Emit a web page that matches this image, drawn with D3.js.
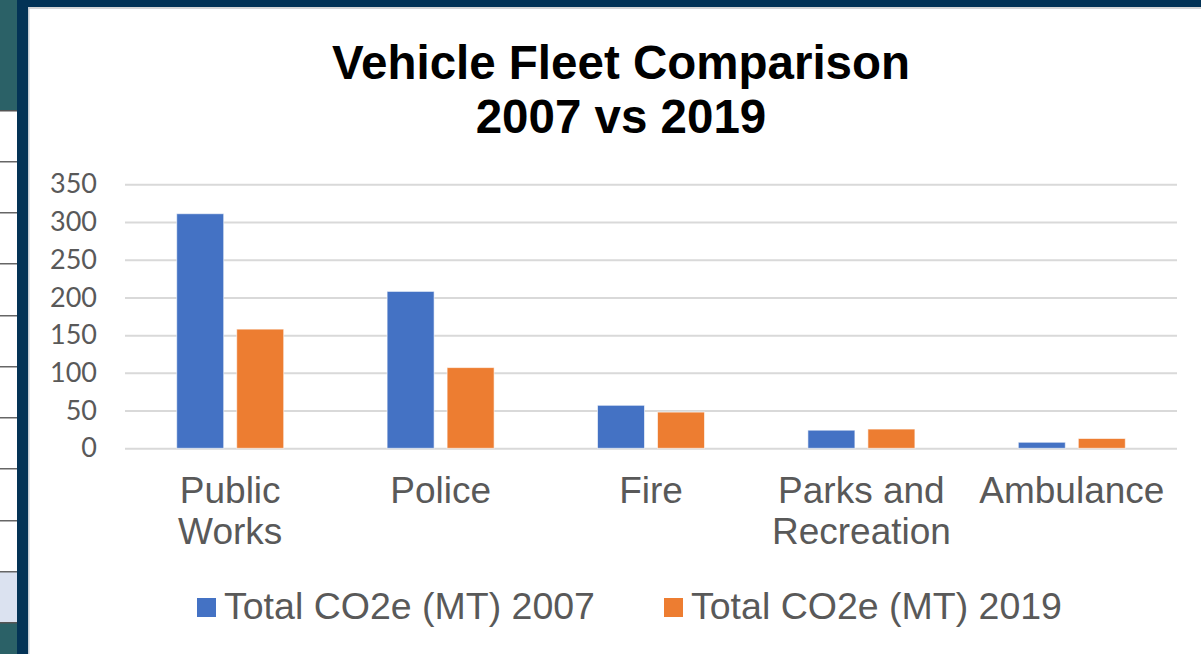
<!DOCTYPE html>
<html>
<head>
<meta charset="utf-8">
<script src="https://cdn.jsdelivr.net/npm/d3@7"></script>
<style>
  html, body { margin: 0; padding: 0; background: #fff; }
  svg { display: block; }
</style>
</head>
<body>
<svg id="chart" width="1201" height="654"></svg>
<script>
// ---- data ----
const categories = ["Public Works", "Police", "Fire", "Parks and Recreation", "Ambulance"];
const seriesNames = ["Total CO2e (MT) 2007", "Total CO2e (MT) 2019"];
const values2007 = [311, 208, 57, 24, 8];
const values2019 = [158, 107, 48, 25.5, 13];
const yTicks = [0, 50, 100, 150, 200, 250, 300, 350];
const titleLines = ["Vehicle Fleet Comparison", "2007 vs 2019"];

const colors = ["#4472C4", "#ED7D31"];
const svg = d3.select("#chart");
const W = 1201, H = 654;

// ---- page frame (surrounding slide UI) ----
svg.append("rect").attr("x", 0).attr("y", 0).attr("width", 17).attr("height", 111).attr("fill", "#2b6167");
svg.append("rect").attr("x", 0).attr("y", 572).attr("width", 17).attr("height", 51).attr("fill", "#dbe2f0");
svg.append("rect").attr("x", 0).attr("y", 623).attr("width", 17).attr("height", 31).attr("fill", "#2b6167");
[162, 213, 264, 316, 367, 418, 469, 521, 572].forEach(y => {
  svg.append("rect").attr("x", 0).attr("y", y - 1).attr("width", 17).attr("height", 1.5).attr("fill", "#666");
});
svg.append("rect").attr("x", 0).attr("y", 110).attr("width", 17).attr("height", 1.5).attr("fill", "#555");
svg.append("rect").attr("x", 0).attr("y", 622).attr("width", 17).attr("height", 1.5).attr("fill", "#555");
svg.append("rect").attr("x", 17).attr("y", 0).attr("width", W - 17).attr("height", 7).attr("fill", "#033356");
svg.append("rect").attr("x", 17).attr("y", 0).attr("width", 11).attr("height", H).attr("fill", "#033356");
svg.append("rect").attr("x", 28).attr("y", 7).attr("width", W - 28).attr("height", 2).attr("fill", "#d6d6d6");
svg.append("rect").attr("x", 28).attr("y", 7).attr("width", 1.5).attr("height", H).attr("fill", "#c5ccd4");

// ---- scales ----
const plotLeft = 125, plotRight = 1177, plotTop = 184.3, plotBottom = 448.3;
const x0 = d3.scaleBand().domain(categories).range([plotLeft, plotRight]).padding(0);
const groupW = 107;
const x1 = d3.scaleBand().domain(seriesNames).range([0, groupW]).paddingInner(0.2167).paddingOuter(0);
const y = d3.scaleLinear().domain([0, 350]).range([plotBottom, plotTop]);

// ---- gridlines ----
const grid = svg.append("g").attr("transform", `translate(${plotLeft},0)`)
  .call(d3.axisLeft(y).tickValues(yTicks).tickSize(-(plotRight - plotLeft)).tickFormat(""));
grid.select(".domain").remove();
grid.selectAll("line").attr("stroke", "#d9d9d9").attr("stroke-width", 2);

// ---- y axis labels ----
const yAxis = svg.append("g").attr("transform", `translate(97,0)`)
  .call(d3.axisLeft(y).tickValues(yTicks).tickSize(0).tickPadding(0));
yAxis.select(".domain").remove();
yAxis.selectAll("text")
  .attr("fill", "#595959")
  .style("font-family", "Lato, 'Open Sans', sans-serif")
  .style("font-size", "27px");

// ---- bars ----
const seriesData = [values2007, values2019];
seriesData.forEach((vals, si) => {
  svg.append("g").selectAll("rect")
    .data(categories.map((c, i) => ({ c, v: vals[i] })))
    .join("rect")
    .attr("x", d => x0(d.c) + (x0.bandwidth() - groupW) / 2 + x1(seriesNames[si]))
    .attr("y", d => y(d.v))
    .attr("width", x1.bandwidth())
    .attr("height", d => plotBottom - y(d.v))
    .attr("fill", colors[si])
    .attr("stroke", "rgba(255,255,255,0.6)")
    .attr("stroke-width", 1);
});

// ---- x axis labels ----
const xAxis = svg.append("g").attr("transform", `translate(0,${plotBottom})`)
  .call(d3.axisBottom(x0).tickSize(0).tickPadding(0));
xAxis.select(".domain").remove();
xAxis.selectAll("text")
  .attr("fill", "#595959")
  .attr("y", 0).attr("dy", null)
  .style("font-family", "'Liberation Sans', Arial, sans-serif")
  .style("font-size", "37px")
  .each(function(d) {
    const t = d3.select(this);
    const words = d.split(" ");
    t.text(null);
    const lines = [];
    let cur = [];
    const probe = t.append("tspan");
    words.forEach(w => {
      const test = cur.concat([w]).join(" ");
      probe.text(test);
      if (probe.node().getComputedTextLength() > 200 && cur.length) {
        lines.push(cur.join(" "));
        cur = [w];
      } else cur.push(w);
    });
    lines.push(cur.join(" "));
    probe.remove();
    lines.forEach((ln, i) => {
      t.append("tspan").attr("x", 0).attr("y", 55 + i * 41).text(ln);
    });
  });

// ---- title ----
const title = svg.append("text")
  .attr("text-anchor", "middle")
  .attr("fill", "#000")
  .style("font-family", "'Liberation Sans', Arial, sans-serif")
  .style("font-weight", "bold")
  .style("font-size", "47.5px");
titleLines.forEach((ln, i) => {
  title.append("tspan").attr("x", 621).attr("y", 79 + i * 54).text(ln);
});

// ---- legend ----
const legendX = [197, 664];
seriesNames.forEach((name, i) => {
  const g = svg.append("g").attr("transform", `translate(${legendX[i]},598)`);
  g.append("rect").attr("width", 19).attr("height", 19).attr("fill", colors[i]);
  g.append("text").attr("x", 27).attr("y", 20.5)
    .attr("fill", "#595959")
    .style("font-family", "'Liberation Sans', Arial, sans-serif")
    .style("font-size", "37.5px")
    .text(name);
});
</script>
</body>
</html>
